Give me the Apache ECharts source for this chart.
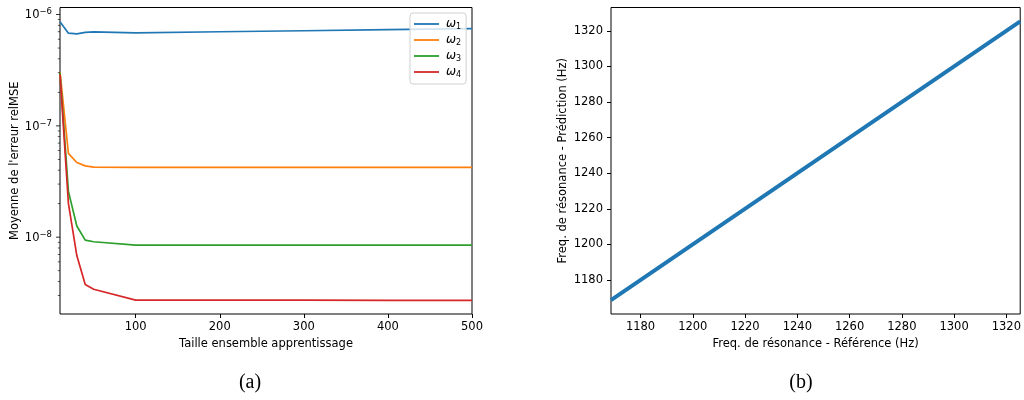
<!DOCTYPE html>
<html>
<head>
<meta charset="utf-8">
<script src="https://cdn.jsdelivr.net/npm/echarts@6/dist/echarts.min.js"></script>
<style>
  html, body { margin: 0; padding: 0; background: #fff; }
  #chart { width: 1024px; height: 400px; }
</style>
</head>
<body>
<div id="chart"></div>
<script>
// (a) mean relMSE error against training-set size, one curve per resonance
const trainSizes = [10, 20, 30, 40, 50, 100, 200, 300, 400, 500];
const errOmega1 = [8.6e-7, 6.8e-7, 6.7e-7, 6.9e-7, 6.98e-7, 6.84e-7, 7.0e-7, 7.15e-7, 7.32e-7, 7.48e-7];
const errOmega2 = [3.05e-7, 5.65e-8, 4.69e-8, 4.37e-8, 4.26e-8, 4.24e-8, 4.24e-8, 4.24e-8, 4.24e-8, 4.24e-8];
const errOmega3 = [3.0e-7, 2.58e-8, 1.26e-8, 9.4e-9, 9.1e-9, 8.47e-9, 8.47e-9, 8.47e-9, 8.47e-9, 8.47e-9];
const errOmega4 = [2.9e-7, 2.01e-8, 6.84e-9, 3.76e-9, 3.41e-9, 2.72e-9, 2.72e-9, 2.72e-9, 2.71e-9, 2.71e-9];
const seriesNames = ['ω1', 'ω2', 'ω3', 'ω4'];
const sizeTicks = [100, 200, 300, 400, 500];
const errMajorTicks = [1e-8, 1e-7, 1e-6];
const errMinorTicks = [3e-9, 4e-9, 5e-9, 6e-9, 7e-9, 8e-9, 9e-9,
                       2e-8, 3e-8, 4e-8, 5e-8, 6e-8, 7e-8, 8e-8, 9e-8,
                       2e-7, 3e-7, 4e-7, 5e-7, 6e-7, 7e-7, 8e-7, 9e-7];

// (b) predicted against reference resonance frequency (Hz)
const freqReference = [1168.7, 1200, 1250, 1300, 1325.3];
const freqPrediction = [1168.7, 1200, 1250, 1300, 1325.3];
const freqTicks = [1180, 1200, 1220, 1240, 1260, 1280, 1300, 1320];

const palette = ['#1f77b4', '#ff7f0e', '#2ca02c', '#d62728'];
const FONT = '"DejaVu Sans", sans-serif';
const INK = '#000';
const FS = 11.5;

const sizeMin = 10, sizeMax = 500;
const errMin = Math.pow(10, -8.69), errMax = Math.pow(10, -5.937);
const refMin = 1168.7, refMax = 1325.3;
const predMin = 1160.9, predMax = 1333.1;

function zip(xs, ys) { return xs.map((x, i) => [x, ys[i]]); }

function powerLabel(v) {
  const e = Math.log10(v);
  const r = Math.round(e);
  if (Math.abs(e - r) > 1e-6) return '';
  return '{b|10}{s|' + (r < 0 ? '\u2212' + (-r) : r) + '}';
}
const plain = v => String(v);

const labelBase = { fontFamily: FONT, fontSize: FS, color: INK };
const nameBase = { fontFamily: FONT, fontSize: FS, color: INK };

const errorCurves = [errOmega1, errOmega2, errOmega3, errOmega4].map((arr, i) => ({
  name: seriesNames[i],
  type: 'line',
  xAxisIndex: 0, yAxisIndex: 0,
  data: zip(trainSizes, arr),
  showSymbol: false, symbol: 'none',
  lineStyle: { width: 1.7, color: palette[i] },
  itemStyle: { color: palette[i] },
  z: 3
}));

const tickMarks = (values, len, w) => ({
  type: 'scatter',
  xAxisIndex: 0, yAxisIndex: 0,
  data: values.map(v => [sizeMin, v]),
  symbol: 'rect',
  symbolSize: [len, w],
  symbolOffset: [-len / 2, 0],
  itemStyle: { color: INK },
  clip: false, silent: true,
  z: 5
});

const option = {
  animation: false,
  grid: [
    { left: 60, top: 7.5, width: 412, height: 306.5, show: true, borderColor: INK, borderWidth: 1, backgroundColor: 'transparent' },
    { left: 611, top: 7.5, width: 411, height: 306.5, show: true, borderColor: INK, borderWidth: 1, backgroundColor: 'transparent' }
  ],
  xAxis: [
    {
      type: 'value', gridIndex: 0, min: sizeMin, max: sizeMax,
      name: 'Taille ensemble apprentissage', nameLocation: 'middle', nameGap: 22,
      nameTextStyle: nameBase,
      axisLine: { show: false },
      axisTick: { show: true, length: 4, lineStyle: { color: INK, width: 1 }, customValues: sizeTicks },
      axisLabel: Object.assign({ margin: 7, customValues: sizeTicks, formatter: plain }, labelBase),
      splitLine: { show: false }
    },
    {
      type: 'value', gridIndex: 1, min: refMin, max: refMax,
      name: 'Freq. de résonance - Référence (Hz)', nameLocation: 'middle', nameGap: 22,
      nameTextStyle: nameBase,
      axisLine: { show: false },
      axisTick: { show: true, length: 4, lineStyle: { color: INK, width: 1 }, customValues: freqTicks },
      axisLabel: Object.assign({ margin: 7, customValues: freqTicks, formatter: plain }, labelBase),
      splitLine: { show: false }
    }
  ],
  yAxis: [
    {
      type: 'log', logBase: 10, gridIndex: 0, min: errMin, max: errMax,
      name: "Moyenne de l'erreur relMSE", nameLocation: 'middle', nameGap: 39,
      nameTextStyle: nameBase,
      axisLine: { show: false },
      axisTick: { show: false },
      axisLabel: Object.assign({
        margin: 8,
        showMinLabel: false, showMaxLabel: false,
        formatter: powerLabel,
        rich: {
          b: { fontFamily: FONT, fontSize: FS, color: INK, lineHeight: 14, verticalAlign: 'bottom' },
          s: { fontFamily: FONT, fontSize: 8.5, color: INK, lineHeight: 14, verticalAlign: 'top' }
        }
      }, labelBase),
      splitLine: { show: false }
    },
    {
      type: 'value', gridIndex: 1, min: predMin, max: predMax,
      name: 'Freq. de résonance - Prédiction (Hz)', nameLocation: 'middle', nameGap: 42,
      nameTextStyle: nameBase,
      axisLine: { show: false },
      axisTick: { show: true, length: 4, lineStyle: { color: INK, width: 1 }, customValues: freqTicks },
      axisLabel: Object.assign({ margin: 8, customValues: freqTicks, formatter: plain }, labelBase),
      splitLine: { show: false }
    }
  ],
  legend: {
    data: seriesNames,
    orient: 'vertical',
    left: 410, top: 13,
    icon: 'rect',
    itemWidth: 25, itemHeight: 1.8,
    itemGap: 3,
    padding: [5, 5, 5, 4],
    borderColor: '#d0d0d0', borderWidth: 1, borderRadius: 3,
    backgroundColor: 'rgba(255,255,255,0.8)',
    formatter: name => '{w|ω}{s|' + name.slice(1) + '}',
    textStyle: {
      fontFamily: FONT, fontSize: FS, color: INK,
      rich: {
        w: { fontFamily: FONT, fontSize: 12, fontStyle: 'italic', color: INK, lineHeight: 14, verticalAlign: 'middle', padding: [0, 0, 0, 2] },
        s: { fontFamily: FONT, fontSize: 8, color: INK, lineHeight: 14, verticalAlign: 'bottom' }
      }
    },
    selectedMode: false
  },
  series: errorCurves.concat([
    tickMarks(errMajorTicks, 4, 1),
    tickMarks(errMinorTicks, 2.2, 0.8),
    {
      name: 'prediction',
      type: 'line',
      xAxisIndex: 1, yAxisIndex: 1,
      data: zip(freqReference, freqPrediction),
      showSymbol: false, symbol: 'none',
      lineStyle: { width: 4, color: palette[0] },
      z: 3
    }
  ]),
  graphic: [
    { type: 'text', x: 250, y: 383, style: { text: '(a)', font: '20px "Liberation Serif", serif', fill: INK, align: 'center', verticalAlign: 'middle' } },
    { type: 'text', x: 801, y: 383, style: { text: '(b)', font: '20px "Liberation Serif", serif', fill: INK, align: 'center', verticalAlign: 'middle' } }
  ]
};

echarts.init(document.getElementById('chart'), null, { renderer: 'canvas' }).setOption(option);
</script>
</body>
</html>
